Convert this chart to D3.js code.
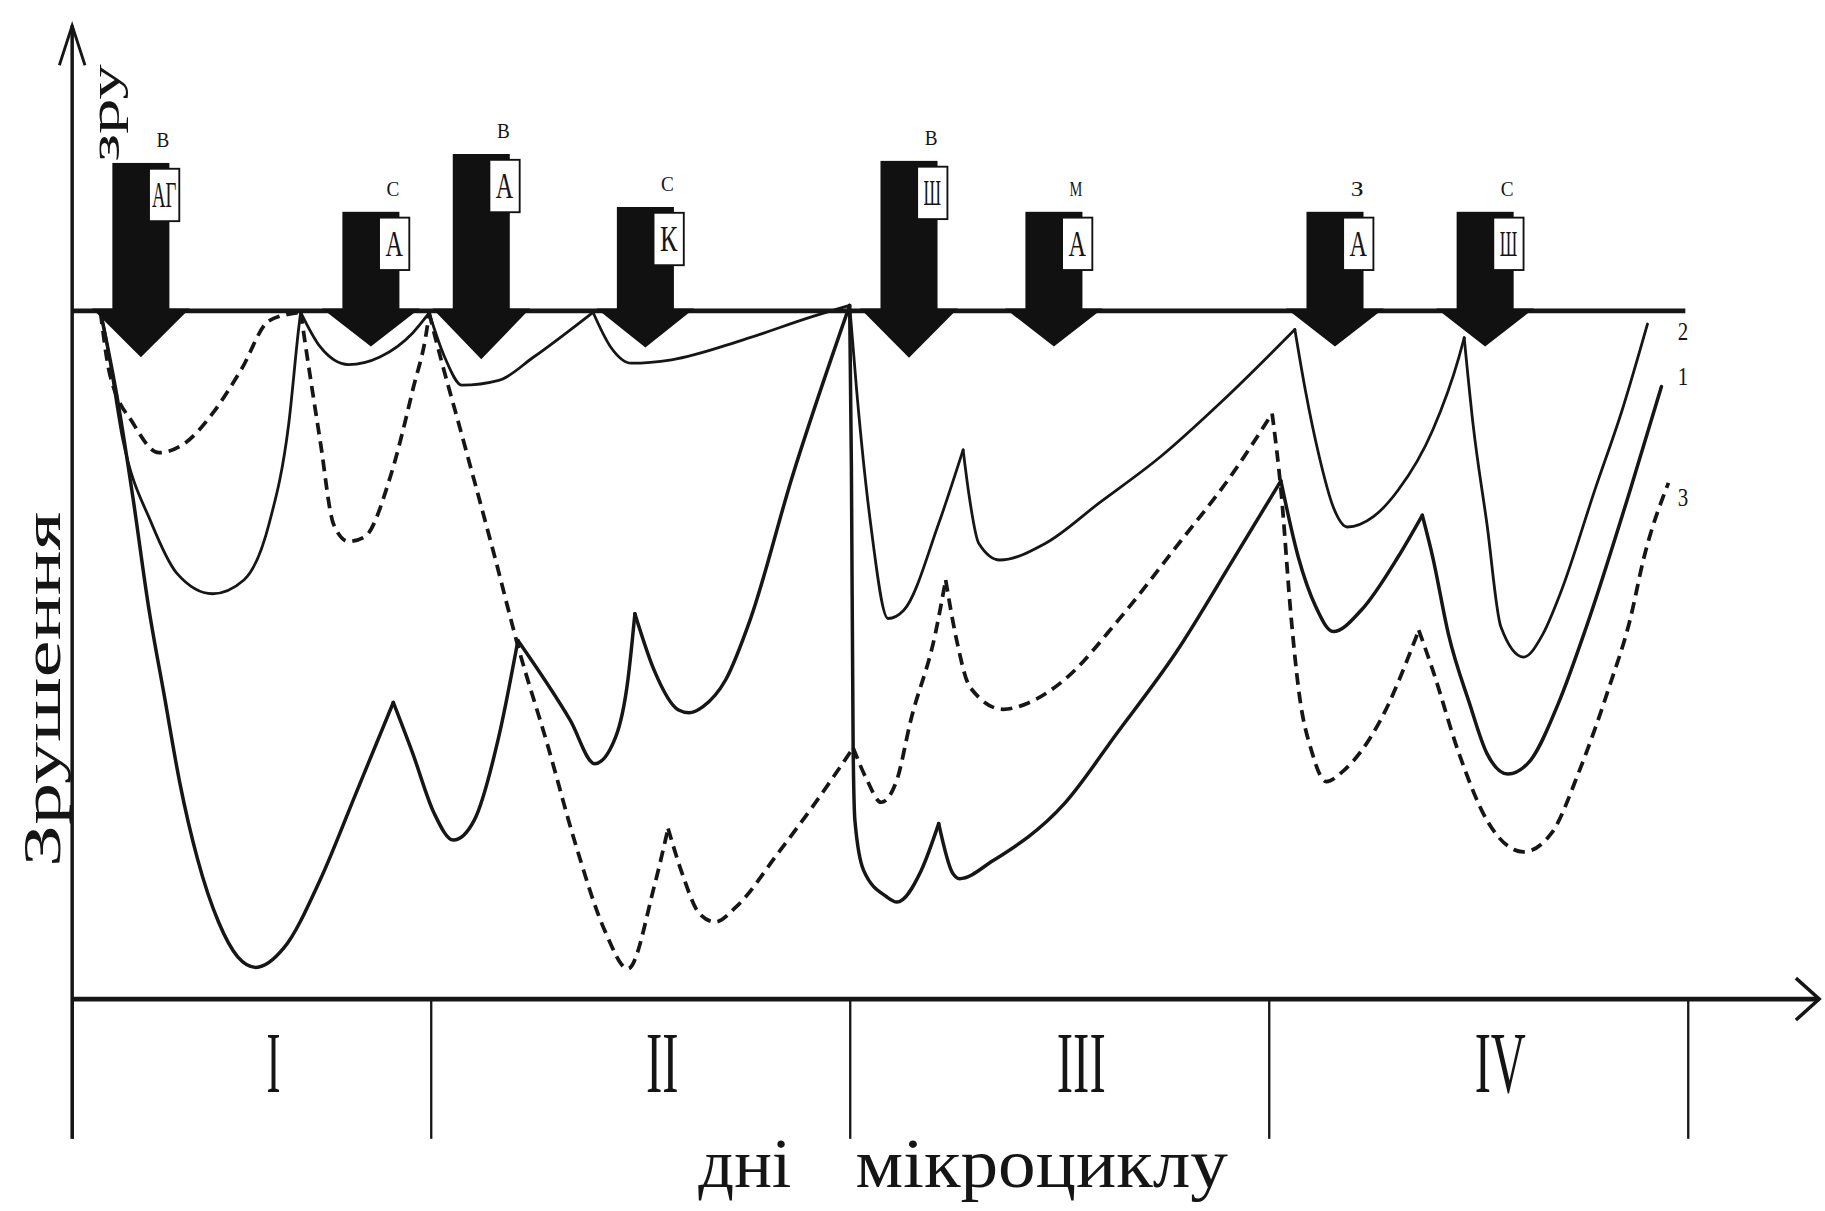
<!DOCTYPE html>
<html>
<head>
<meta charset="utf-8">
<script src="https://cdn.jsdelivr.net/npm/d3@7/dist/d3.min.js"></script>
<style>
  html, body { margin: 0; padding: 0; background: #fff; }
  svg { display: block; }
  text { font-family: "Liberation Serif", "DejaVu Serif", serif; fill: #151515; }
</style>
</head>
<body>
<svg id="chart" width="1825" height="1211" viewBox="0 0 1568 1040" preserveAspectRatio="none"></svg>
<script>
// ---------------- DATA ----------------
// time axis: hours of the microcycle, day boundaries
const dayBounds = [0, 24, 48, 72, 96];
const dayLabels = ["I", "II", "III", "IV"];

// training loads (arrows)
const loadHours     = [4.6, 20.0, 26.9, 36.3, 51.4, 59.7, 75.8, 84.4];
const loadMagnitude = [21.5, 14.4, 22.8, 15.1, 21.8, 14.4, 14.4, 14.4];
const loadSize      = ["В", "С", "В", "С", "В", "М", "З", "С"];
const loadType      = ["АГ", "А", "А", "К", "Ш", "А", "А", "Ш"];

// shifts (зрушення) after loads: [hour, value]; each series is a list of recovery segments
const seriesNames = ["1", "2", "3"];
const seriesLabelValue = [9.6, 3.0, 27.1];

const series1 = [
  [[1.9,0.2],[3.0,12.4],[4.1,27.6],[5.1,42.8],[6.2,56.3],[7.2,68.5],[8.4,79.7],[9.8,88.8],[11.1,93.9],[12.3,95.4],[14.2,92.5],[16.6,82.7],[19.0,70.1],[21.5,56.9]],
  [[21.5,56.9],[22.8,64.3],[24.2,73.0],[25.3,76.9],[26.5,74.0],[27.9,61.9],[29.0,47.9]],
  [[29.0,47.9],[32.0,59.5],[33.4,65.8],[34.6,61.9],[35.3,53.6],[35.7,44.0]],
  [[35.7,44.0],[36.8,52.2],[38.2,58.0],[38.8,58.4],[39.6,57.5],[40.9,53.6],[42.3,44.9],[44.7,24.2],[48.0,-0.8]],
  [[48.0,-0.8],[48.1,22.5],[48.2,63.4],[48.3,74.0],[48.8,81.3],[50.1,85.1],[50.7,85.9],[52.1,81.3],[53.1,74.5]],
  [[53.1,74.5],[53.9,81.7],[54.3,82.5],[56.2,79.9],[60.3,71.6],[63.3,61.4],[66.7,49.6],[70.0,36.0],[72.7,24.7]],
  [[72.7,24.7],[73.7,35.8],[74.7,43.0],[75.7,46.6],[77.3,43.5],[79.4,35.8],[80.8,29.7]],
  [[80.8,29.7],[81.4,35.8],[82.3,47.0],[83.5,57.0],[84.5,64.3],[85.7,67.3],[87.0,65.3],[88.6,57.0],[90.2,45.9],[92.7,26.1],[94.5,11.0]]
];

const series2 = [
  [[1.9,0.2],[2.2,3.2],[3.4,18.8],[5.3,30.8],[7.0,38.1],[9.4,41.1],[11.5,39.1],[13.2,30.8],[14.5,16.4],[15.2,1.9],[15.3,0.2]],
  [[15.3,0.2],[16.6,5.2],[18.5,7.8],[20.6,6.7],[22.8,3.2],[23.9,0.3]],
  [[23.9,0.3],[24.8,6.7],[25.8,10.8],[27.9,10.1],[29.9,6.7],[33.3,0.2]],
  [[33.3,0.2],[34.3,5.2],[35.5,7.6],[37.8,7.1],[41.9,4.2],[45.9,0.8],[48.0,-0.8]],
  [[48.0,-0.8],[48.4,11.5],[49.2,30.9],[50.2,44.7],[51.1,43.5],[53.1,30.9],[54.5,20.2]],
  [[54.5,20.2],[54.8,26.1],[55.4,33.8],[56.6,36.2],[59.2,33.8],[62.3,27.9],[65.8,21.2],[69.3,13.2],[73.5,2.7]],
  [[73.5,2.7],[74.1,11.5],[74.9,21.2],[75.7,28.5],[76.5,31.4],[78.0,29.9],[79.4,26.1],[81.4,17.3],[82.9,6.7],[83.2,3.9]],
  [[83.2,3.9],[83.7,16.3],[84.5,30.9],[85.3,45.9],[86.6,50.3],[87.7,47.0],[88.7,41.1],[90.7,25.9],[92.3,14.0],[93.7,1.9]]
];

const series3 = [
  [[1.9,0.2],[2.5,9.0],[4.1,16.4],[5.8,20.6],[7.5,19.3],[9.4,14.9],[11.3,8.6],[13.2,1.4],[15.3,0.2]],
  [[15.3,0.2],[15.5,3.2],[16.6,18.8],[17.5,31.0],[18.5,33.5],[19.6,32.8],[21.3,24.1],[22.8,11.5],[23.8,1.9],[23.9,0.3]],
  [[23.9,0.3],[24.1,2.2],[26.0,20.0],[27.7,36.0],[29.0,48.7],[30.7,63.1],[32.3,77.5],[34.0,90.2],[35.3,95.6],[36.8,83.7],[37.6,75.2]],
  [[37.6,75.2],[38.4,81.7],[39.4,87.6],[40.3,88.8],[41.5,86.6],[43.9,78.8],[46.0,71.6],[48.2,63.5]],
  [[48.2,63.5],[49.0,68.2],[49.8,71.4],[50.7,68.2],[51.5,59.5],[52.9,47.0],[53.5,39.1]],
  [[53.5,39.1],[54.1,47.5],[54.9,54.7],[56.8,57.9],[58.2,57.0],[60.3,53.6],[63.4,44.9],[66.7,34.3],[70.0,23.4],[72.2,14.9]],
  [[72.2,14.9],[72.7,25.9],[73.3,44.9],[73.7,54.7],[74.5,64.3],[75.3,68.4],[76.3,66.8],[78.4,59.5],[80.6,46.4]],
  [[80.6,46.4],[81.4,52.2],[82.9,64.3],[84.5,74.0],[86.6,78.6],[88.2,75.9],[89.8,66.8],[91.5,54.7],[92.7,44.9],[93.5,35.8],[94.9,25.0]]
];

// ---------------- LAYOUT / SCALES ----------------
const svg = d3.select("#chart");
const x = d3.scaleLinear().domain(dayBounds).range([62, 370, 730, 1090, 1450]);
const y = d3.scaleLinear().domain([0, 100]).range([267, 858]);
const ink = "#161616";

const seriesStyle = [
  { width: 3.0, dash: null },
  { width: 2.4, dash: null },
  { width: 3.2, dash: "10,6" }
];

// partial rotated caption at the top of the axis
svg.append("text")
  .attr("transform", `translate(90,97) rotate(-90)`)
  .attr("text-anchor", "middle")
  .attr("dominant-baseline", "central")
  .attr("font-size", 36)
  .attr("textLength", 84)
  .attr("lengthAdjust", "spacingAndGlyphs")
  .text("зру");

// y-axis title
svg.append("text")
  .attr("transform", `translate(36,592) rotate(-90)`)
  .attr("text-anchor", "middle")
  .attr("dominant-baseline", "central")
  .attr("font-size", 46)
  .attr("textLength", 305)
  .attr("lengthAdjust", "spacingAndGlyphs")
  .text("Зрушення");

// curves
const line = d3.line()
  .x(d => x(d[0]))
  .y(d => y(d[1]))
  .curve(d3.curveMonotoneX);

[series1, series2, series3].forEach((segs, i) => {
  const g = svg.append("g").attr("class", "series s" + seriesNames[i]);
  g.selectAll("path").data(segs).join("path")
    .attr("d", line)
    .attr("fill", "none")
    .attr("stroke", ink)
    .attr("stroke-width", seriesStyle[i].width)
    .attr("stroke-linecap", seriesStyle[i].dash ? "butt" : "round")
    .attr("stroke-linejoin", "round")
    .attr("stroke-dasharray", seriesStyle[i].dash);
});

// series labels
svg.append("g").selectAll("text").data(seriesNames).join("text")
  .attr("x", x(96) - 4)
  .attr("y", (d, i) => y(seriesLabelValue[i]))
  .attr("text-anchor", "middle")
  .attr("dominant-baseline", "central")
  .attr("font-size", 22)
  .attr("textLength", 9)
  .attr("lengthAdjust", "spacingAndGlyphs")
  .text(d => d);

// baseline (zero shift)
svg.append("line")
  .attr("x1", x(0)).attr("x2", x(96) - 2)
  .attr("y1", y(0)).attr("y2", y(0))
  .attr("stroke", ink).attr("stroke-width", 4);

// loads: bars with arrow heads
const loads = loadHours.map((h, i) => ({ h, m: loadMagnitude[i], s: loadSize[i], t: loadType[i] }));
const lg = svg.append("g").selectAll("g").data(loads).join("g");
lg.append("rect")
  .attr("x", d => x(d.h) - 24.5)
  .attr("width", 49)
  .attr("y", d => y(-d.m))
  .attr("height", d => y(0) - y(-d.m))
  .attr("fill", "#111");
lg.append("path")
  .attr("d", d => {
    const cx = x(d.h), tip = y(2 + d.m * 0.22);
    return `M${cx - 42},${y(0) - 2}L${cx + 42},${y(0) - 2}L${cx},${tip}Z`;
  })
  .attr("fill", "#111");
lg.append("rect")
  .attr("x", d => x(d.h) + 7)
  .attr("y", d => y(-d.m) + 5)
  .attr("width", 26)
  .attr("height", 45)
  .attr("fill", "#fff")
  .attr("stroke", "#111")
  .attr("stroke-width", 1.6);
lg.append("text")
  .attr("x", d => x(d.h) + 20)
  .attr("y", d => y(-d.m) + 28)
  .attr("text-anchor", "middle")
  .attr("dominant-baseline", "central")
  .attr("font-size", 30)
  .attr("textLength", d => d.t.length > 1 ? 21 : 15)
  .attr("lengthAdjust", "spacingAndGlyphs")
  .text(d => d.t);
lg.append("text")
  .attr("x", d => x(d.h) + 19)
  .attr("y", d => y(-d.m) - 20)
  .attr("text-anchor", "middle")
  .attr("dominant-baseline", "central")
  .attr("font-size", 18)
  .attr("textLength", 11)
  .attr("lengthAdjust", "spacingAndGlyphs")
  .text(d => d.s);

// y axis with arrow
const axisBottomY = y(100) + 120;
svg.append("line")
  .attr("x1", x(0)).attr("x2", x(0))
  .attr("y1", axisBottomY).attr("y2", 22)
  .attr("stroke", ink).attr("stroke-width", 3);
svg.append("path")
  .attr("d", `M${x(0) - 11},56L${x(0)},22L${x(0) + 11},56`)
  .attr("fill", "none").attr("stroke", ink).attr("stroke-width", 2.5);

// x axis (days) with arrow
const xEnd = x(96) + 113;
svg.append("line")
  .attr("x1", x(0)).attr("x2", xEnd)
  .attr("y1", y(100)).attr("y2", y(100))
  .attr("stroke", ink).attr("stroke-width", 4);
svg.append("path")
  .attr("d", `M${xEnd - 20},${y(100) - 18}L${xEnd},${y(100)}L${xEnd - 20},${y(100) + 18}`)
  .attr("fill", "none").attr("stroke", ink).attr("stroke-width", 3);

const axisG = svg.append("g")
  .attr("transform", `translate(0,${y(100)})`)
  .call(d3.axisBottom(x).tickValues(dayBounds).tickSize(120).tickFormat(() => ""));
axisG.select(".domain").remove();
axisG.selectAll(".tick line").attr("stroke", ink).attr("stroke-width", 2);

// day labels (Roman numerals)
const numeralWidth = { "I": 12, "II": 28, "III": 42, "IV": 44 };
svg.append("g").selectAll("text").data(dayLabels).join("text")
  .attr("x", (d, i) => x((dayBounds[i] + dayBounds[i + 1]) / 2) + 19)
  .attr("y", y(100) + 80)
  .attr("text-anchor", "middle")
  .attr("font-size", 75)
  .attr("textLength", d => numeralWidth[d])
  .attr("lengthAdjust", "spacingAndGlyphs")
  .text(d => d);

// x-axis title
svg.append("text")
  .attr("x", 600).attr("y", 1019)
  .attr("font-size", 60)
  .attr("textLength", 80)
  .attr("lengthAdjust", "spacingAndGlyphs")
  .text("дні");
svg.append("text")
  .attr("x", 735).attr("y", 1019)
  .attr("font-size", 60)
  .attr("textLength", 320)
  .attr("lengthAdjust", "spacingAndGlyphs")
  .text("мікроциклу");
</script>
</body>
</html>
